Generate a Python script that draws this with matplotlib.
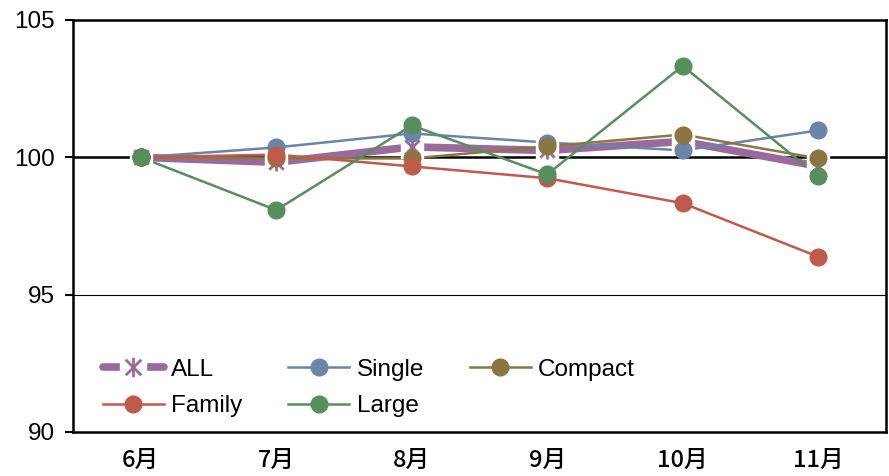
import matplotlib
matplotlib.use("Agg")
import matplotlib.pyplot as plt
from matplotlib.path import Path
from matplotlib.lines import Line2D

months = ["6月", "7月", "8月", "9月", "10月", "11月"]
all_idx = [100.0, 99.82, 100.38, 100.25, 100.58, 99.68]
single = [100.0, 100.36, 100.87, 100.54, 100.25, 100.98]
compact = [100.0, 99.96, 99.96, 100.40, 100.83, 99.96]
family = [100.0, 100.10, 99.67, 99.24, 98.33, 96.38]
large = [100.0, 98.08, 101.16, 99.38, 103.33, 99.31]
y_ticks = [90, 95, 100, 105]

c_all = "#9b6a9c"
c_single = "#6a84aa"
c_compact = "#8b7642"
c_family = "#c05a4a"
c_large = "#568e5c"

# asterisk: X with a vertical stroke
star = Path([(-1, -1), (1, 1), (-1, 1), (1, -1), (0, -1.25), (0, 1.25)],
            [Path.MOVETO, Path.LINETO, Path.MOVETO, Path.LINETO, Path.MOVETO, Path.LINETO])

fig = plt.figure(figsize=(8.89, 4.76), dpi=100)
ax = fig.add_axes([73 / 889, 1 - 432 / 476, (886 - 73) / 889, (432 - 20) / 476])

x = list(range(len(months)))

ax.axhline(100, color="black", lw=1.8, zorder=1)
ax.axhline(95, color="black", lw=0.8, zorder=1)

ax.plot(x, all_idx, color=c_all, lw=5.5, zorder=2, solid_capstyle="round")
for vals, col in [(single, c_single), (compact, c_compact), (family, c_family), (large, c_large)]:
    ax.plot(x, vals, color=col, lw=1.8, zorder=2)

# white backing behind the asterisk markers
ax.plot(x, all_idx, ls="none", marker="s", ms=16, mfc="white", mec="white", zorder=3)
ax.plot(x, all_idx, ls="none", marker=star, ms=13, mec=c_all, mew=2, zorder=4)
for vals, col in [(single, c_single), (compact, c_compact), (family, c_family), (large, c_large)]:
    ax.plot(x, vals, ls="none", marker="o", ms=12, mfc=col, mec=col, zorder=5)

ax.set_xlim(-0.5, len(months) - 0.5)
ax.set_ylim(90, 105)
ax.set_yticks(y_ticks)
ax.set_yticklabels([str(v) for v in y_ticks], fontsize=17.5, family="Liberation Sans")
ax.set_xticks(x)
ax.set_xticklabels(months, fontsize=17, family="Noto Sans CJK JP", weight="medium")
ax.tick_params(axis="y", direction="out", length=6, width=1.5, pad=7)
ax.tick_params(axis="x", length=0, pad=12)
for s in ax.spines.values():
    s.set_linewidth(1.8)

all_handle = (
    Line2D([], [], color=c_all, lw=5.5, solid_capstyle="round"),
    Line2D([], [], ls="none", marker="s", ms=19, mfc="white", mec="white"),
    Line2D([], [], ls="none", marker=star, ms=14, mec=c_all, mew=2),
)
handles = [
    all_handle,
    Line2D([], [], color=c_single, lw=1.8, marker="o", ms=12, mfc=c_single, mec=c_single),
    Line2D([], [], color=c_compact, lw=1.8, marker="o", ms=12, mfc=c_compact, mec=c_compact),
    Line2D([], [], color=c_family, lw=1.8, marker="o", ms=12, mfc=c_family, mec=c_family),
    Line2D([], [], color=c_large, lw=1.8, marker="o", ms=12, mfc=c_large, mec=c_large),
]
labels = ["ALL", "Single", "Compact", "Family", "Large"]
order = [0, 3, 1, 4, 2]
leg = ax.legend([handles[i] for i in order], [labels[i] for i in order], ncol=3,
                loc="lower left", bbox_to_anchor=(0.01, -0.017), frameon=False,
                prop={"family": "Liberation Sans", "size": 17.5}, handlelength=2.5,
                handletextpad=0.3, columnspacing=1.9, labelspacing=0.6,
                borderaxespad=0.5)

fig.savefig("out.png", dpi=100)
